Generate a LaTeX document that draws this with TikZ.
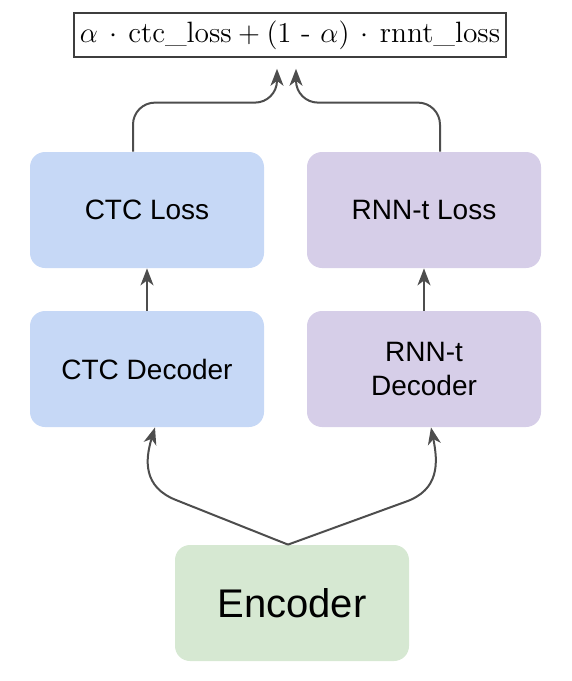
\documentclass[tikz,border=0pt]{standalone}
\usepackage{amsmath}
\usepackage{fontspec}
\newfontfamily\boxfont{Liberation Sans}
\usetikzlibrary{arrows.meta,positioning,calc}
\definecolor{Ink}{HTML}{4D4D4D}
\definecolor{CtcFill}{HTML}{C6D8F6}
\definecolor{RnntFill}{HTML}{D6CEE8}
\definecolor{EncFill}{HTML}{D6E8D2}

\begin{document}
\begin{tikzpicture}[x=0.5pt,y=-0.5pt,>={Stealth[length=8.5pt,width=6.5pt,inset=2.5pt]}]
\useasboundingbox (0,0) rectangle (572,681);
\tikzset{
  block/.style={rounded corners=7.5pt,minimum width=117pt,minimum height=58pt,inner sep=0pt,
    align=center,font=\boxfont\fontsize{14}{17}\selectfont},
  flow/.style={->,Ink,line width=1pt}
}
% loss formula
\node[draw=Ink!80!black,line width=0.8pt,minimum width=216pt,minimum height=22pt,inner sep=0pt,
  font=\fontsize{14.7}{16}\selectfont] (formula) at (290,35)
  {$\alpha \,\cdot\, \text{ctc\_loss} + (1 \text{ - } \alpha) \,\cdot\, \text{rnnt\_loss}$};
% boxes
\node[block,fill=CtcFill] (ctcloss) at (147,210) {CTC Loss};
\node[block,fill=RnntFill] (rnntloss) at (424,210) {RNN-t Loss};
\node[block,fill=CtcFill] (ctcdec) at (147,369) {CTC Decoder};
\node[block,fill=RnntFill] (rnntdec) at (424,369) {RNN-t\\Decoder};
\node[block,fill=EncFill,font=\boxfont\fontsize{20}{24}\selectfont] (enc) at (292,603) {Encoder};
% tips under the formula
\coordinate (lefttip) at ($(formula.south)+(-13,11)$);
\coordinate (righttip) at ($(formula.south)+(6,11)$);
% connectors
\draw[flow] (ctcdec.north) -- (ctcloss.south);
\draw[flow] (rnntdec.north) -- (rnntloss.south);
\draw[flow,rounded corners=11pt] ($(ctcloss.north)+(-14,0)$) -- ++(0,-49) -| (lefttip);
\draw[flow,rounded corners=11pt] ($(rnntloss.north)+(16,0)$) -- ++(0,-49) -| (righttip);
\draw[flow] ($(enc.north)+(-4,0)$) -- (176,500) .. controls (143,487) and (145,460) .. ($(ctcdec.south)+(8,0)$);
\draw[flow] ($(enc.north)+(-4,0)$) -- (405,502) .. controls (440,490) and (438,462) .. ($(rnntdec.south)+(7,0)$);
\end{tikzpicture}
\end{document}
